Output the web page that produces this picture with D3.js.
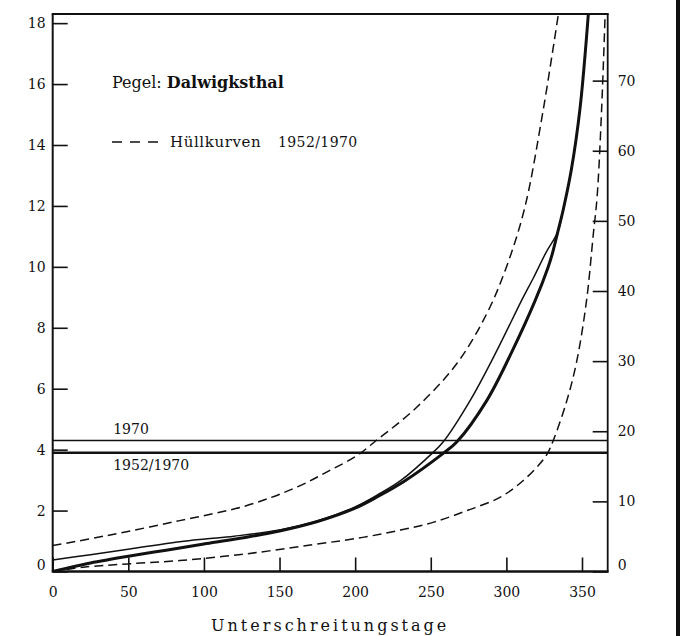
<!DOCTYPE html>
<html>
<head>
<meta charset="utf-8">
<script src="https://cdn.jsdelivr.net/npm/d3@7/dist/d3.min.js"></script>
<style>
  html, body { margin: 0; padding: 0; background: #fff; }
  svg { display: block; }
  text { font-family: "DejaVu Serif", "Liberation Serif", serif; fill: #111; }
</style>
</head>
<body>
<svg id="chart" width="685" height="636"></svg>
<script>
// Flow duration curves, gauge Dalwigksthal: discharge vs. days of non-exceedance

const dayTicks = [0, 50, 100, 150, 200, 250, 300, 350];
const leftTicks = [0, 2, 4, 6, 8, 10, 12, 14, 16, 18];
const rightTicks = [0, 10, 20, 30, 40, 50, 60, 70];

// main duration curve 1952/1970 (heavy line)
const curveMain = [
  [0, 0.0], [10, 0.12], [25, 0.28], [50, 0.5], [75, 0.7], [100, 0.9],
  [125, 1.1], [150, 1.33], [175, 1.64], [200, 2.08], [215, 2.46], [233, 2.98],
  [258, 3.87], [267, 4.24], [287, 5.61], [304, 7.25], [319, 8.89],
  [327.6, 9.99], [330.5, 10.45], [334, 11.15], [337.7, 11.9], [343, 13.2],
  [348.7, 15.2], [354.2, 18.3]
];

// duration curve 1970 (light line)
const curve1970 = [
  [0, 0.38], [25, 0.55], [51, 0.74], [84, 0.98], [101, 1.07], [120, 1.16],
  [150, 1.36], [175, 1.66], [200, 2.12], [215, 2.52], [230, 2.98],
  [250.7, 3.87], [258, 4.24], [276, 5.61], [293.7, 7.25], [310, 8.89],
  [318, 9.65], [326, 10.45], [334, 11.15], [337.7, 11.9], [343, 13.2],
  [348.7, 15.2], [354.2, 18.3]
];

// envelope curves 1952/1970
const envelopeUpper = [
  [0, 0.85], [36, 1.18], [84, 1.67], [128, 2.16], [161, 2.76], [183, 3.31],
  [201, 3.8], [214, 4.3], [240.7, 5.39], [267, 6.81], [287, 8.46],
  [300, 9.99], [312, 11.91], [323.4, 14.87], [334.4, 18.3]
];
const envelopeLower = [
  [0, 0.0], [20, 0.14], [50, 0.25], [84, 0.36], [128, 0.58], [172, 0.88],
  [205, 1.12], [230, 1.36], [252, 1.62], [274, 2.0], [296, 2.44], [311, 2.98],
  [322, 3.53], [327, 3.86], [331, 4.3], [340, 5.61], [346.6, 6.92],
  [353, 8.89], [357.5, 11.08], [360, 12.3], [363, 15.2], [365.3, 18.3]
];

// horizontal reference levels
const levelNames = ["1970", "1952/1970"];
const levelValues = [4.3, 3.9];

const svg = d3.select("#chart");
const x = d3.scaleLinear().domain([0, 367]).range([52.7, 607.7]);
const yL = d3.scaleLinear().domain([0, 18.3]).range([571.5, 14]);
const yR = d3.scaleLinear().domain([0, 79.5]).range([571.5, 14]);

svg.append("defs").append("clipPath").attr("id", "plot")
  .append("rect")
  .attr("x", x.range()[0]).attr("y", yL.range()[1])
  .attr("width", x.range()[1] - x.range()[0])
  .attr("height", yL.range()[0] - yL.range()[1]);

// axes with inward ticks
const gx = svg.append("g").attr("transform", `translate(0,${yL.range()[0]})`)
  .call(d3.axisBottom(x).tickValues(dayTicks).tickSize(-14).tickPadding(16));
const gl = svg.append("g").attr("transform", `translate(${x.range()[0]},0)`)
  .call(d3.axisLeft(yL).tickValues(leftTicks).tickSize(-15).tickPadding(7));
const gr = svg.append("g").attr("transform", `translate(${x.range()[1]},0)`)
  .call(d3.axisRight(yR).tickValues(rightTicks).tickSize(-15).tickPadding(10));

[gx, gl, gr].forEach(g => {
  g.select(".domain").remove();
  g.selectAll(".tick line").attr("stroke", "#111").attr("stroke-width", 1.6);
  g.selectAll(".tick text").attr("font-size", 14).attr("fill", "#111")
    .style("font-family", '"DejaVu Serif", serif');
});
gl.selectAll(".tick text").filter(d => d === 0).attr("dy", "-0.15em");
gr.selectAll(".tick text").filter(d => d === 0).attr("dy", "-0.15em");

// frame
const [x0, x1] = x.range();
const [yb, yt] = yL.range();
const frame = svg.append("g").attr("stroke", "#111").attr("fill", "none");
frame.append("line").attr("x1", x0).attr("x2", x0).attr("y1", yt).attr("y2", yb).attr("stroke-width", 2);
frame.append("line").attr("x1", x0 - 1).attr("x2", x1 + 1).attr("y1", yb).attr("y2", yb).attr("stroke-width", 2.4);
frame.append("line").attr("x1", x0 - 1).attr("x2", x1 + 1).attr("y1", yt).attr("y2", yt).attr("stroke-width", 2);
frame.append("line").attr("x1", x1).attr("x2", x1).attr("y1", yt).attr("y2", yb).attr("stroke-width", 1.8);

// reference levels
const lv = svg.append("g");
levelValues.forEach((v, i) => {
  lv.append("line")
    .attr("x1", x0).attr("x2", x1)
    .attr("y1", yL(v)).attr("y2", yL(v))
    .attr("stroke", "#111").attr("stroke-width", i === 0 ? 1.6 : 2.6);
});
lv.append("text").attr("x", x(40)).attr("y", yL(levelValues[0]) - 7)
  .attr("font-size", 14).text(levelNames[0]);
lv.append("text").attr("x", x(40)).attr("y", yL(levelValues[1]) + 17)
  .attr("font-size", 14).text(levelNames[1]);

// curves
const line = d3.line().x(d => x(d[0])).y(d => yL(d[1])).curve(d3.curveCatmullRom.alpha(0.5));
const curves = svg.append("g").attr("clip-path", "url(#plot)").attr("fill", "none").attr("stroke", "#111");
curves.append("path").attr("d", line(envelopeUpper)).attr("stroke-width", 1.5).attr("stroke-dasharray", "9,5");
curves.append("path").attr("d", line(envelopeLower)).attr("stroke-width", 1.5).attr("stroke-dasharray", "9,5");
curves.append("path").attr("d", line(curve1970)).attr("stroke-width", 1.5);
curves.append("path").attr("d", line(curveMain)).attr("stroke-width", 3);

// legend
const lg = svg.append("g");
const t1 = lg.append("text").attr("x", 112).attr("y", 88).attr("font-size", 16);
t1.append("tspan").text("Pegel: ");
t1.append("tspan").attr("font-weight", "bold").text("Dalwigksthal");
lg.append("line").attr("x1", 112).attr("x2", 158).attr("y1", 142).attr("y2", 142)
  .attr("stroke", "#111").attr("stroke-width", 1.5).attr("stroke-dasharray", "10,8");
lg.append("text").attr("x", 170).attr("y", 147).attr("font-size", 15).attr("letter-spacing", 0.6).text("Hüllkurven");
lg.append("text").attr("x", 278).attr("y", 147).attr("font-size", 14).attr("letter-spacing", 0.4).text("1952/1970");

// x-axis title
svg.append("text").attr("x", (x0 + x1) / 2).attr("y", 631)
  .attr("text-anchor", "middle").attr("font-size", 16).attr("letter-spacing", 3)
  .text("Unterschreitungstage");

// page edge
svg.append("rect").attr("x", 676).attr("y", 0).attr("width", 4).attr("height", 636).attr("fill", "#111");
</script>
</body>
</html>
